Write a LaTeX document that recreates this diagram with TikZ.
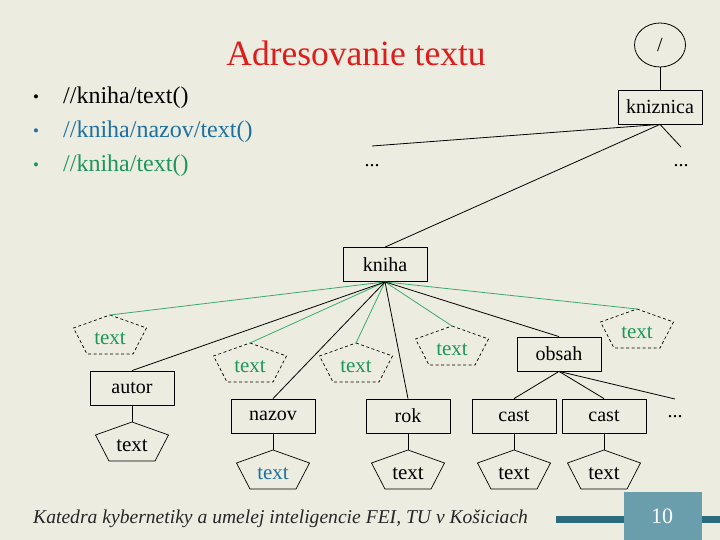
\documentclass[tikz,border=0pt]{standalone}
\usepackage{fontspec}
\setmainfont{Liberation Serif}
\usetikzlibrary{shapes.geometric}
\definecolor{bg}{RGB}{236,236,224}
\definecolor{tred}{RGB}{222,28,28}
\definecolor{tblue}{RGB}{30,112,160}
\definecolor{tgreen}{RGB}{30,150,90}
\definecolor{lgreen}{RGB}{60,170,110}
\definecolor{barc}{RGB}{44,106,126}
\definecolor{boxc}{RGB}{106,158,172}
\newcommand{\treefont}{\fontsize{20}{20}\selectfont}
\newcommand{\pentfont}{\fontsize{21}{21}\selectfont}
\tikzset{
  pics/pent/.style n args={2}{code={
    \draw[pic actions] (0,0) -- (36.5,13) -- (23,39) -- (-23,39) -- (-36.5,13) -- cycle;
    \coordinate (-top) at (0,0);
    \node[text=#2, font=\pentfont, inner sep=0pt] (-lbl) at (0,24) {#1};
  }},
  treebox/.style={draw, line width=0.8pt, minimum width=84pt, minimum height=34pt, inner sep=0pt, font=\treefont},
  blink/.style={line width=0.8pt},
  glink/.style={draw=lgreen, line width=0.8pt},
  dashpent/.style={line width=0.7pt, dash pattern=on 3pt off 2.5pt},
  solidpent/.style={line width=0.7pt},
  dots/.style={font=\treefont, inner sep=0pt},
  bullettext/.style={anchor=west, font=\fontsize{24}{24}\selectfont, inner sep=0pt},
  bulletmark/.style={font=\fontsize{17}{17}\selectfont, inner sep=0pt}
}
\begin{document}
\begin{tikzpicture}[x=1pt,y=-1pt]
\useasboundingbox (0,0) rectangle (720,540);
\fill[bg] (0,0) rectangle (720,540);

% title
\node[text=tred, font=\fontsize{35.5}{35.5}\selectfont, inner sep=0pt] (title) at (356,53) {Adresovanie textu};

% bullets
\node[bulletmark] (b1) at (36,99) {•};
\node[bullettext] (t1) at (63,98) {//kniha/text()};
\node[bulletmark, text=tblue] (b2) at (36,133) {•};
\node[bullettext, text=tblue] (t2) at (63,132) {//kniha/nazov/text()};
\node[bulletmark, text=tgreen] (b3) at (36,167) {•};
\node[bullettext, text=tgreen] (t3) at (63,166) {//kniha/text()};

% top of tree
\node[draw, ellipse, line width=0.8pt, minimum width=51pt, minimum height=44pt, inner sep=0pt, font=\treefont] (root) at (660,45) {/};
\node[treebox] (kz) at (660,107) {kniznica};
\draw[blink] (root) -- (kz);

\node[dots] (dl) at (372,166) {...};
\node[dots] (dr) at (681,166) {...};
\coordinate (dlt) at (372,146);
\coordinate (drt) at (681,147);
\node[treebox] (kh) at (385,264.5) {kniha};
\draw[blink] (kz.south) -- (dlt);
\draw[blink] (kz.south) -- (drt);
\draw[blink] (kz.south) -- (kh.north);

% children of kniha
\pic[dashpent] (pa) at (110,315) {pent={text}{tgreen}};
\pic[dashpent] (pb) at (250,343) {pent={text}{tgreen}};
\pic[dashpent] (pc) at (356,343) {pent={text}{tgreen}};
\pic[dashpent] (pd) at (452,326) {pent={text}{tgreen}};
\pic[dashpent] (pe) at (637,309) {pent={text}{tgreen}};

\node[treebox] (au) at (132,388) {autor};
\node[treebox] (nz) at (273,416) {nazov};
\node[treebox] (rk) at (408,416) {rok};
\node[treebox] (ob) at (559,354) {obsah};
\node[treebox] (c1) at (514,416) {cast};
\node[treebox] (c2) at (604,416) {cast};
\node[dots] (d3) at (675,417) {...};
\coordinate (d3t) at (675,399);

\draw[glink] (kh.south) -- (pa-top);
\draw[glink] (kh.south) -- (pb-top);
\draw[glink] (kh.south) -- (pc-top);
\draw[glink] (kh.south) -- (pd-top);
\draw[glink] (kh.south) -- (pe-top);
\draw[blink] (kh.south) -- (au.north);
\draw[blink] (kh.south) -- (nz.north);
\draw[blink] (kh.south) -- (rk.north);
\draw[blink] (kh.south) -- (ob.north);

\draw[blink] (ob.south) -- (c1.north);
\draw[blink] (ob.south) -- (c2.north);
\draw[blink] (ob.south) -- (d3t);

% leaf text nodes
\pic[solidpent] (qa) at (132,422) {pent={text}{black}};
\pic[solidpent] (qn) at (273,450) {pent={text}{tblue}};
\pic[solidpent] (qr) at (408,450) {pent={text}{black}};
\pic[solidpent] (q1) at (514,450) {pent={text}{black}};
\pic[solidpent] (q2) at (604,450) {pent={text}{black}};
\draw[blink] (au.south) -- (qa-top);
\draw[blink] (nz.south) -- (qn-top);
\draw[blink] (rk.south) -- (qr-top);
\draw[blink] (c1.south) -- (q1-top);
\draw[blink] (c2.south) -- (q2-top);

% footer
\node[anchor=west, inner sep=0pt, font=\itshape\fontsize{19.6}{19.6}\selectfont, text=black!85] (foot) at (33,519) {Katedra kybernetiky a umelej inteligencie FEI, TU v Košiciach};
\fill[barc] (556,516) rectangle (720,523);
\fill[boxc] (624,492) rectangle (702,540);
\node[text=white, font=\fontsize{22}{22}\selectfont, inner sep=0pt] (num) at (662,516) {10};
\end{tikzpicture}
\end{document}
